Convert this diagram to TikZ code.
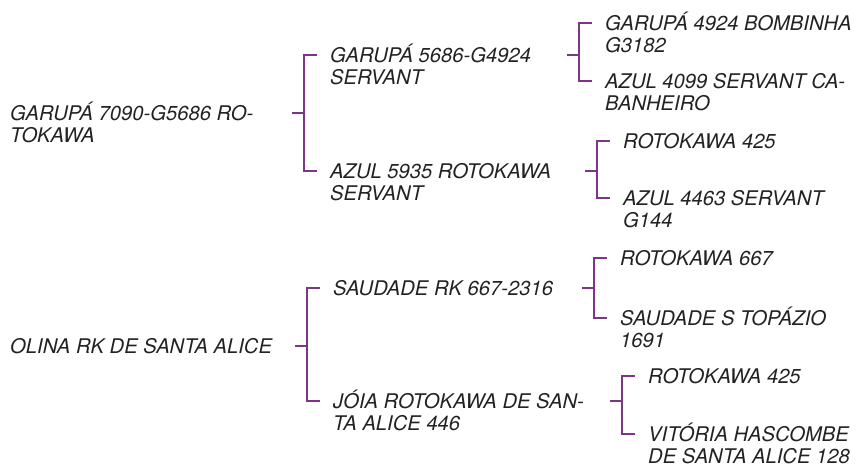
\documentclass[tikz,border=0pt]{standalone}
\usepackage{fontspec}
\setmainfont{TeX Gyre Heros}
\usetikzlibrary{calc}
\definecolor{plum}{HTML}{7C3587}
\definecolor{ink}{HTML}{222222}
% two lines, baseline on the first one
\newcommand{\twoline}[2]{\vtop{\hbox{#1}\hbox{#2}}}

\begin{document}
\begin{tikzpicture}[
    x=1pt, y=-1pt,
    horse/.style={
        anchor=base west,
        inner sep=0pt,
        text=ink,
        font=\fontsize{20.2}{22}\selectfont\itshape
    },
    link/.style={
        draw=plum,
        line width=1.6pt
    }
]
\useasboundingbox (0,0) rectangle (862,467);

% first dam
\node[horse] (r1) at (10,120) {\twoline{GARUPÁ 7090-G5686 RO-}{TOKAWA}};
\node[horse] (a) at (330,62) {\twoline{GARUPÁ 5686-G4924}{SERVANT}};
\node[horse] (b) at (330,178) {\twoline{AZUL 5935 ROTOKAWA}{SERVANT}};
\node[horse] (aa) at (605,30) {\twoline{GARUPÁ 4924 BOMBINHA}{G3182}};
\node[horse] (ab) at (605,88) {\twoline{AZUL 4099 SERVANT CA-}{BANHEIRO}};
\node[horse] (ba) at (623,148) {ROTOKAWA 425};
\node[horse] (bb) at (623,205) {\twoline{AZUL 4463 SERVANT}{G144}};

% second dam
\node[horse] (r2) at (10,353) {OLINA RK DE SANTA ALICE};
\node[horse] (c) at (333,295) {SAUDADE RK 667-2316};
\node[horse] (d) at (333,408) {\twoline{JÓIA ROTOKAWA DE SAN-}{TA ALICE 446}};
\node[horse] (ca) at (620,265) {ROTOKAWA 667};
\node[horse] (cb) at (620,325) {\twoline{SAUDADE S TOPÁZIO}{1691}};
\node[horse] (da) at (648,383) {ROTOKAWA 425};
\node[horse] (db) at (648,441) {\twoline{VITÓRIA HASCOMBE}{DE SANTA ALICE 128}};

% brackets
\draw[link] ([xshift=-13pt,yshift=7pt]a.base west) -| ([xshift=-26pt,yshift=7pt]b.base west) -- ([xshift=-13pt,yshift=7pt]b.base west);
\draw[link] let \p1=(a.base west), \p2=(r1.base) in (\x1-38pt,\y2+7pt) -- (\x1-26pt,\y2+7pt);

\draw[link] ([xshift=-13pt,yshift=7pt]aa.base west) -| ([xshift=-26pt,yshift=7pt]ab.base west) -- ([xshift=-13pt,yshift=7pt]ab.base west);
\draw[link] let \p1=(aa.base west), \p2=(a.base) in (\x1-38pt,\y2+7pt) -- (\x1-26pt,\y2+7pt);

\draw[link] ([xshift=-13pt,yshift=7pt]ba.base west) -| ([xshift=-26pt,yshift=7pt]bb.base west) -- ([xshift=-13pt,yshift=7pt]bb.base west);
\draw[link] let \p1=(ba.base west), \p2=(b.base) in (\x1-38pt,\y2+7pt) -- (\x1-26pt,\y2+7pt);

\draw[link] ([xshift=-13pt,yshift=7pt]c.base west) -| ([xshift=-26pt,yshift=7pt]d.base west) -- ([xshift=-13pt,yshift=7pt]d.base west);
\draw[link] let \p1=(c.base west), \p2=(r2.base) in (\x1-38pt,\y2+7pt) -- (\x1-26pt,\y2+7pt);

\draw[link] ([xshift=-13pt,yshift=7pt]ca.base west) -| ([xshift=-26pt,yshift=7pt]cb.base west) -- ([xshift=-13pt,yshift=7pt]cb.base west);
\draw[link] let \p1=(ca.base west), \p2=(c.base) in (\x1-38pt,\y2+7pt) -- (\x1-26pt,\y2+7pt);

\draw[link] ([xshift=-13pt,yshift=7pt]da.base west) -| ([xshift=-26pt,yshift=7pt]db.base west) -- ([xshift=-13pt,yshift=7pt]db.base west);
\draw[link] let \p1=(da.base west), \p2=(d.base) in (\x1-38pt,\y2+7pt) -- (\x1-26pt,\y2+7pt);

\end{tikzpicture}
\end{document}
